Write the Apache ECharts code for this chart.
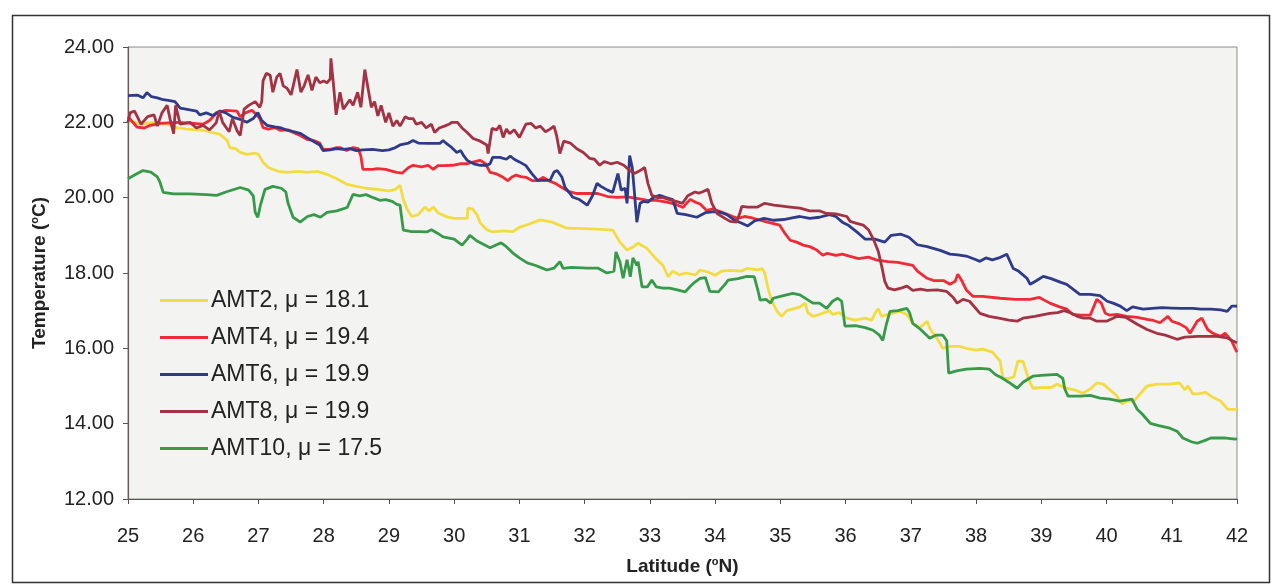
<!DOCTYPE html>
<html>
<head>
<meta charset="utf-8">
<script src="https://cdn.jsdelivr.net/npm/echarts@6/dist/echarts.min.js"></script>
<style>
html,body{margin:0;padding:0;background:#fff;}
#chart{width:1271px;height:585px;}
</style>
</head>
<body>
<div id="chart"></div>
<script>
// ---- data (latitude °N, temperature °C) ----
const seriesNames = ['AMT2', 'AMT4', 'AMT6', 'AMT8', 'AMT10'];
const seriesMeans = ['18.1', '19.4', '19.9', '19.9', '17.5'];

const amt2 = [[25.0,22.05],[25.2,21.95],[25.4,22.0],[25.6,21.95],[25.75,21.86],[25.9,21.82],[26.15,21.79],[26.41,21.68],[26.52,21.52],[26.56,21.33],[26.65,21.3],[26.72,21.2],[26.82,21.15],[26.95,21.18],[27.0,21.15],[27.07,20.94],[27.15,20.8],[27.3,20.7],[27.44,20.67],[27.6,20.7],[27.75,20.67],[27.9,20.7],[28.05,20.62],[28.2,20.5],[28.36,20.35],[28.5,20.3],[28.65,20.25],[28.82,20.22],[29.0,20.18],[29.1,20.22],[29.17,20.33],[29.22,19.95],[29.28,19.69],[29.35,19.5],[29.45,19.55],[29.55,19.75],[29.62,19.65],[29.68,19.75],[29.75,19.6],[29.89,19.49],[30.0,19.45],[30.1,19.45],[30.2,19.45],[30.21,19.72],[30.28,19.7],[30.35,19.55],[30.4,19.33],[30.5,19.15],[30.59,19.09],[30.75,19.12],[30.9,19.1],[31.01,19.22],[31.15,19.3],[31.32,19.41],[31.5,19.35],[31.73,19.19],[32.0,19.18],[32.25,19.16],[32.43,19.14],[32.54,18.82],[32.65,18.61],[32.75,18.7],[32.82,18.79],[32.95,18.66],[33.11,18.35],[33.2,18.2],[33.28,17.9],[33.35,18.05],[33.45,17.95],[33.55,18.0],[33.7,17.95],[33.77,18.08],[33.9,18.02],[34.0,17.94],[34.1,18.05],[34.23,18.07],[34.4,18.05],[34.49,18.12],[34.65,18.08],[34.72,18.12],[34.76,18.0],[34.81,17.6],[34.87,17.25],[34.95,16.98],[35.02,16.85],[35.1,17.0],[35.2,17.05],[35.3,17.1],[35.38,17.2],[35.42,16.95],[35.5,16.85],[35.6,16.9],[35.75,17.0],[35.8,16.9],[35.9,16.95],[36.02,16.8],[36.15,16.75],[36.3,16.8],[36.4,16.75],[36.45,16.93],[36.5,17.05],[36.55,16.85],[36.65,16.9],[36.75,16.95],[36.83,16.98],[36.94,16.9],[37.03,16.66],[37.14,16.55],[37.25,16.72],[37.3,16.5],[37.4,16.27],[37.49,16.0],[37.6,16.05],[37.75,16.05],[37.85,16.0],[38.0,15.95],[38.1,15.98],[38.25,15.9],[38.37,15.66],[38.41,15.21],[38.5,15.2],[38.58,15.25],[38.64,15.66],[38.72,15.65],[38.8,15.21],[38.87,14.94],[39.0,14.96],[39.15,14.96],[39.24,15.05],[39.35,14.96],[39.5,14.9],[39.64,14.81],[39.75,14.92],[39.85,15.08],[39.95,15.05],[40.05,14.9],[40.15,14.75],[40.24,14.52],[40.32,14.6],[40.42,14.6],[40.52,14.8],[40.62,15.0],[40.78,15.05],[40.95,15.05],[41.12,15.08],[41.2,14.9],[41.25,15.0],[41.32,14.79],[41.42,14.8],[41.52,14.83],[41.63,14.7],[41.75,14.6],[41.86,14.38],[42.0,14.38]];

const amt4 = [[25.0,22.15],[25.14,21.87],[25.25,21.85],[25.34,21.92],[25.5,21.97],[25.75,22.0],[26.0,21.97],[26.15,21.95],[26.25,22.05],[26.36,22.26],[26.5,22.32],[26.67,22.3],[26.72,22.15],[26.8,22.25],[26.9,22.32],[26.97,22.2],[27.02,22.1],[27.07,21.86],[27.15,21.82],[27.25,21.86],[27.33,21.79],[27.45,21.8],[27.55,21.72],[27.64,21.65],[27.74,21.55],[27.84,21.52],[27.94,21.45],[27.99,21.28],[28.1,21.28],[28.2,21.33],[28.25,21.33],[28.35,21.25],[28.45,21.33],[28.53,21.3],[28.57,21.1],[28.6,20.75],[28.75,20.75],[28.82,20.77],[28.95,20.75],[29.06,20.7],[29.12,20.67],[29.2,20.65],[29.3,20.8],[29.37,20.86],[29.5,20.82],[29.6,20.86],[29.68,20.75],[29.75,20.85],[29.85,20.85],[29.97,20.86],[30.09,20.9],[30.2,20.9],[30.3,20.95],[30.4,20.99],[30.48,20.9],[30.55,20.67],[30.65,20.63],[30.75,20.54],[30.82,20.45],[30.88,20.54],[30.95,20.6],[31.02,20.56],[31.1,20.54],[31.2,20.45],[31.28,20.45],[31.36,20.54],[31.45,20.45],[31.55,20.38],[31.67,20.25],[31.75,20.17],[31.88,20.11],[32.04,20.11],[32.2,20.11],[32.35,20.03],[32.5,20.01],[32.65,20.02],[32.8,19.98],[32.96,19.93],[33.1,19.93],[33.26,19.88],[33.4,19.82],[33.51,19.74],[33.56,19.85],[33.62,19.95],[33.7,19.88],[33.77,19.83],[33.87,19.66],[33.97,19.7],[34.1,19.62],[34.27,19.5],[34.35,19.45],[34.45,19.5],[34.55,19.47],[34.69,19.4],[34.8,19.35],[34.99,19.27],[35.07,19.05],[35.15,18.87],[35.25,18.82],[35.35,18.74],[35.45,18.7],[35.55,18.62],[35.65,18.47],[35.72,18.52],[35.85,18.47],[35.95,18.5],[36.07,18.44],[36.2,18.38],[36.35,18.42],[36.48,18.34],[36.65,18.3],[36.8,18.28],[37.03,18.2],[37.1,18.05],[37.25,17.86],[37.35,17.8],[37.5,17.8],[37.6,17.7],[37.68,17.78],[37.72,17.97],[37.78,17.8],[37.85,17.55],[37.95,17.38],[38.1,17.38],[38.37,17.33],[38.6,17.3],[38.83,17.3],[38.97,17.35],[39.13,17.2],[39.28,17.1],[39.39,17.04],[39.48,16.9],[39.6,16.88],[39.75,16.88],[39.85,17.3],[39.92,17.2],[39.98,16.93],[40.05,16.88],[40.16,16.9],[40.31,16.85],[40.47,16.82],[40.62,16.77],[40.72,16.74],[40.82,16.68],[40.94,16.85],[41.0,16.72],[41.12,16.65],[41.22,16.55],[41.28,16.4],[41.39,16.72],[41.46,16.8],[41.55,16.5],[41.63,16.4],[41.75,16.32],[41.82,16.4],[41.92,16.19],[41.97,16.0],[42.0,15.9]];

const amt6 = [[25.0,22.71],[25.15,22.72],[25.23,22.65],[25.29,22.79],[25.36,22.68],[25.45,22.65],[25.54,22.6],[25.62,22.58],[25.72,22.55],[25.8,22.38],[25.95,22.33],[26.05,22.3],[26.1,22.2],[26.2,22.25],[26.3,22.18],[26.41,22.3],[26.5,22.25],[26.61,22.13],[26.72,22.08],[26.82,22.0],[26.92,22.1],[26.99,22.26],[27.05,22.05],[27.13,21.92],[27.25,21.88],[27.35,21.85],[27.44,21.79],[27.55,21.75],[27.65,21.7],[27.74,21.6],[27.84,21.5],[27.94,21.4],[27.99,21.25],[28.1,21.27],[28.2,21.3],[28.3,21.28],[28.4,21.3],[28.5,21.25],[28.6,21.27],[28.75,21.28],[28.9,21.25],[29.0,21.27],[29.1,21.33],[29.17,21.4],[29.3,21.45],[29.37,21.52],[29.45,21.45],[29.6,21.44],[29.7,21.44],[29.78,21.44],[29.83,21.52],[29.88,21.44],[29.95,21.35],[30.04,21.2],[30.1,21.25],[30.15,21.1],[30.2,20.99],[30.3,20.9],[30.4,20.86],[30.5,20.86],[30.55,20.9],[30.59,21.07],[30.7,21.07],[30.8,21.02],[30.86,21.1],[30.92,21.02],[31.0,20.95],[31.1,20.85],[31.19,20.64],[31.28,20.46],[31.4,20.46],[31.47,20.46],[31.53,20.68],[31.58,20.72],[31.65,20.55],[31.7,20.27],[31.78,20.1],[31.82,20.01],[31.92,19.95],[32.04,19.8],[32.12,20.05],[32.19,20.38],[32.25,20.3],[32.35,20.2],[32.43,20.14],[32.51,20.64],[32.56,20.2],[32.62,20.25],[32.65,19.85],[32.69,21.12],[32.73,20.8],[32.76,20.2],[32.8,19.35],[32.85,19.85],[32.9,19.9],[32.97,19.88],[33.05,20.0],[33.15,20.06],[33.25,20.0],[33.35,19.95],[33.42,19.58],[33.55,19.55],[33.72,19.48],[33.85,19.6],[34.0,19.63],[34.1,19.6],[34.18,19.55],[34.3,19.4],[34.41,19.32],[34.5,19.25],[34.6,19.38],[34.75,19.45],[34.9,19.4],[35.05,19.42],[35.2,19.47],[35.3,19.5],[35.45,19.45],[35.6,19.48],[35.75,19.55],[35.85,19.5],[35.95,19.35],[36.05,19.26],[36.2,19.05],[36.3,18.9],[36.45,18.9],[36.6,18.82],[36.7,19.0],[36.85,19.03],[36.97,18.95],[37.1,18.75],[37.25,18.7],[37.45,18.6],[37.6,18.5],[37.72,18.48],[37.85,18.45],[38.0,18.35],[38.06,18.31],[38.15,18.4],[38.25,18.35],[38.35,18.4],[38.47,18.5],[38.57,18.12],[38.65,18.05],[38.78,17.86],[38.83,17.7],[38.93,17.8],[39.03,17.91],[39.15,17.85],[39.3,17.75],[39.39,17.7],[39.5,17.55],[39.59,17.43],[39.75,17.43],[39.9,17.4],[40.01,17.25],[40.1,17.2],[40.21,17.12],[40.31,17.0],[40.4,17.1],[40.56,17.04],[40.7,17.06],[40.85,17.08],[41.0,17.07],[41.15,17.06],[41.32,17.06],[41.45,17.04],[41.6,17.04],[41.75,17.02],[41.85,16.98],[41.92,17.12],[42.0,17.12]];

const amt8 = [[25.0,22.0],[25.03,22.25],[25.1,22.3],[25.2,21.95],[25.3,22.15],[25.4,22.2],[25.45,21.9],[25.52,22.25],[25.6,22.45],[25.65,22.05],[25.7,21.7],[25.73,22.45],[25.8,21.95],[25.95,22.0],[26.05,21.85],[26.15,21.92],[26.25,21.8],[26.35,21.98],[26.4,22.3],[26.45,22.0],[26.55,21.75],[26.6,22.1],[26.67,21.78],[26.72,21.65],[26.78,22.35],[26.85,22.45],[26.95,22.55],[27.02,22.4],[27.05,22.55],[27.07,23.1],[27.12,23.3],[27.18,23.25],[27.22,22.8],[27.28,23.2],[27.33,23.3],[27.38,22.97],[27.44,22.9],[27.5,22.73],[27.55,23.1],[27.59,23.4],[27.65,22.8],[27.7,22.97],[27.76,23.26],[27.82,22.85],[27.88,23.2],[27.94,23.05],[28.0,23.1],[28.05,23.05],[28.1,23.15],[28.11,23.7],[28.15,23.0],[28.19,22.2],[28.25,22.8],[28.3,22.35],[28.4,22.6],[28.45,22.45],[28.52,22.8],[28.57,22.4],[28.63,23.4],[28.68,22.9],[28.73,22.4],[28.78,22.55],[28.83,22.17],[28.88,22.45],[28.95,22.0],[29.0,22.25],[29.06,21.9],[29.12,22.05],[29.17,21.9],[29.25,22.15],[29.3,22.1],[29.37,22.1],[29.42,21.95],[29.5,22.0],[29.57,21.85],[29.65,21.95],[29.7,21.73],[29.77,21.85],[29.85,21.9],[29.92,21.95],[29.97,22.0],[30.05,22.0],[30.12,21.85],[30.2,21.73],[30.29,21.57],[30.4,21.5],[30.5,21.4],[30.52,21.17],[30.58,21.84],[30.65,21.8],[30.7,21.92],[30.75,21.6],[30.8,21.82],[30.85,21.7],[30.92,21.8],[31.0,21.6],[31.1,21.95],[31.18,21.97],[31.25,21.85],[31.32,21.9],[31.4,21.75],[31.47,21.82],[31.53,21.9],[31.57,21.65],[31.62,21.17],[31.68,21.5],[31.78,21.45],[31.88,21.3],[31.98,21.2],[32.08,21.04],[32.15,21.02],[32.23,20.86],[32.3,20.96],[32.4,20.9],[32.5,20.94],[32.6,20.86],[32.69,20.72],[32.77,20.65],[32.85,20.72],[32.92,20.8],[32.97,20.38],[33.03,20.06],[33.12,20.0],[33.2,20.0],[33.3,19.95],[33.4,19.9],[33.5,19.85],[33.58,20.05],[33.69,20.15],[33.75,20.12],[33.8,20.15],[33.89,20.22],[33.95,19.85],[34.03,19.58],[34.15,19.45],[34.23,19.37],[34.33,19.35],[34.38,19.6],[34.41,19.77],[34.5,19.75],[34.65,19.75],[34.76,19.85],[34.9,19.8],[35.0,19.78],[35.15,19.75],[35.3,19.72],[35.45,19.65],[35.6,19.65],[35.71,19.58],[35.85,19.57],[36.02,19.5],[36.07,19.37],[36.17,19.32],[36.27,19.27],[36.35,19.15],[36.42,18.92],[36.5,18.58],[36.56,18.13],[36.6,17.78],[36.65,17.6],[36.75,17.55],[36.85,17.6],[36.94,17.65],[37.03,17.54],[37.15,17.57],[37.25,17.54],[37.4,17.55],[37.55,17.51],[37.65,17.35],[37.71,17.2],[37.8,17.3],[37.9,17.25],[38.0,17.05],[38.06,16.93],[38.2,16.85],[38.35,16.8],[38.5,16.75],[38.63,16.72],[38.72,16.8],[38.9,16.85],[39.13,16.93],[39.25,16.95],[39.35,17.0],[39.44,16.95],[39.55,16.85],[39.65,16.8],[39.75,16.8],[39.85,16.72],[40.0,16.72],[40.1,16.8],[40.16,16.85],[40.3,16.82],[40.47,16.64],[40.62,16.5],[40.77,16.4],[40.9,16.35],[41.08,16.24],[41.2,16.3],[41.4,16.32],[41.69,16.32],[41.85,16.28],[41.94,16.19],[42.0,16.15]];

const amt10 = [[25.0,20.5],[25.03,20.48],[25.1,20.6],[25.23,20.72],[25.35,20.68],[25.45,20.55],[25.49,20.41],[25.54,20.14],[25.7,20.1],[25.95,20.1],[26.2,20.08],[26.36,20.06],[26.5,20.15],[26.72,20.27],[26.85,20.2],[26.92,20.05],[26.95,19.61],[26.99,19.48],[27.03,19.8],[27.1,20.22],[27.22,20.3],[27.35,20.25],[27.42,20.15],[27.45,19.87],[27.53,19.48],[27.64,19.35],[27.75,19.5],[27.85,19.55],[27.95,19.48],[28.05,19.61],[28.2,19.65],[28.36,19.74],[28.45,20.09],[28.55,20.05],[28.65,20.08],[28.76,20.0],[28.86,19.93],[28.95,19.95],[29.05,19.9],[29.12,19.82],[29.17,19.8],[29.22,19.14],[29.35,19.1],[29.48,19.1],[29.58,19.09],[29.65,19.15],[29.75,19.05],[29.83,18.96],[30.0,18.9],[30.12,18.74],[30.2,18.9],[30.24,19.0],[30.35,18.85],[30.55,18.67],[30.65,18.75],[30.72,18.8],[30.8,18.7],[30.9,18.53],[31.0,18.4],[31.12,18.27],[31.25,18.2],[31.35,18.13],[31.42,18.08],[31.53,18.13],[31.62,18.3],[31.67,18.12],[31.8,18.15],[32.04,18.13],[32.2,18.13],[32.34,18.0],[32.45,18.05],[32.48,18.56],[32.54,18.3],[32.59,17.86],[32.65,18.35],[32.7,17.9],[32.74,18.4],[32.8,18.2],[32.82,18.3],[32.88,17.63],[32.96,17.63],[33.03,17.81],[33.1,17.63],[33.2,17.6],[33.3,17.6],[33.42,17.55],[33.54,17.5],[33.62,17.65],[33.69,17.76],[33.77,17.86],[33.85,17.88],[33.92,17.51],[34.05,17.5],[34.15,17.7],[34.2,17.81],[34.35,17.85],[34.49,17.91],[34.6,17.9],[34.66,17.51],[34.69,17.28],[34.78,17.3],[34.85,17.2],[34.89,17.33],[35.0,17.38],[35.19,17.46],[35.3,17.42],[35.5,17.2],[35.6,17.2],[35.71,17.06],[35.8,17.25],[35.88,17.33],[35.94,17.25],[35.99,16.59],[36.15,16.6],[36.3,16.55],[36.42,16.48],[36.52,16.35],[36.57,16.21],[36.62,16.6],[36.68,16.98],[36.8,17.0],[36.94,17.06],[36.98,16.95],[37.03,16.66],[37.15,16.5],[37.29,16.27],[37.38,16.35],[37.49,16.35],[37.55,16.2],[37.58,15.34],[37.7,15.4],[37.85,15.45],[38.06,15.47],[38.2,15.45],[38.3,15.3],[38.4,15.21],[38.5,15.1],[38.63,14.94],[38.72,15.1],[38.87,15.26],[39.0,15.28],[39.24,15.31],[39.33,15.2],[39.36,14.92],[39.41,14.73],[39.6,14.73],[39.75,14.75],[39.9,14.68],[40.05,14.65],[40.2,14.6],[40.39,14.65],[40.47,14.38],[40.55,14.25],[40.67,14.01],[40.8,13.95],[40.97,13.88],[41.08,13.8],[41.17,13.62],[41.3,13.52],[41.39,13.48],[41.5,13.55],[41.6,13.62],[41.8,13.62],[41.97,13.59],[42.0,13.6]];

const seriesData = [amt2, amt4, amt6, amt8, amt10];
const seriesColors = ['#f2dc42', '#f02a36', '#2f3b88', '#a23244', '#37994a'];

// ---- chart ----
const FONT = "'Liberation Sans', Arial, sans-serif";
const chart = echarts.init(document.getElementById('chart'), null, {renderer: 'canvas'});

const series = seriesNames.map((n, i) => ({
  name: n + ', \u03bc = ' + seriesMeans[i],
  type: 'line',
  data: seriesData[i],
  symbol: 'none',
  smooth: false,
  lineStyle: {width: 2.8, color: seriesColors[i]},
  itemStyle: {color: seriesColors[i]},
  z: 2 + i
}));

const nameRich = {
  a: {fontFamily: FONT, fontSize: 19, fontWeight: 'bold', color: '#222', lineHeight: 22},
  s: {fontFamily: FONT, fontSize: 11, fontWeight: 'bold', color: '#222', verticalAlign: 'top', lineHeight: 22}
};

chart.setOption({
  animation: false,
  backgroundColor: '#ffffff',
  grid: {
    left: 128, right: 34, top: 47, bottom: 86,
    show: true, backgroundColor: '#f3f3f1', borderColor: '#8a8a8a', borderWidth: 1
  },
  graphic: [{
    type: 'rect', left: 10, top: 13, z: 100, silent: true,
    shape: {width: 1257, height: 567},
    style: {fill: 'none', stroke: '#333', lineWidth: 1.5}
  }],
  legend: {
    orient: 'vertical', left: 155, top: 283,
    icon: 'rect', itemWidth: 48, itemHeight: 3, itemGap: 12,
    textStyle: {fontFamily: FONT, fontSize: 23, color: '#222', lineHeight: 25, padding: [0, 0, 0, -2]},
    data: series.map(s => s.name)
  },
  xAxis: {
    type: 'value', min: 25, max: 42, interval: 1,
    name: '{a|Latitude (}{s|o}{a|N)}', nameLocation: 'middle', nameGap: 57,
    nameTextStyle: {rich: nameRich},
    axisLine: {show: true, onZero: false, lineStyle: {color: '#555', width: 1.2}},
    axisTick: {show: true, inside: false, length: 5, lineStyle: {color: '#555'}},
    axisLabel: {fontFamily: FONT, fontSize: 20, color: '#222', margin: 27},
    splitLine: {show: false}
  },
  yAxis: {
    type: 'value', min: 12, max: 24, interval: 2,
    name: '{a|Temperature (}{s|o}{a|C)}', nameLocation: 'middle', nameGap: 77, nameRotate: 90,
    nameTextStyle: {rich: nameRich},
    axisLine: {show: true, lineStyle: {color: '#6a5a5a', width: 1.2}},
    axisTick: {show: true, inside: false, length: 5, lineStyle: {color: '#555'}},
    axisLabel: {fontFamily: FONT, fontSize: 20, color: '#222', margin: 14, formatter: v => v.toFixed(2)},
    splitLine: {show: false}
  },
  series: series
});
</script>
</body>
</html>
